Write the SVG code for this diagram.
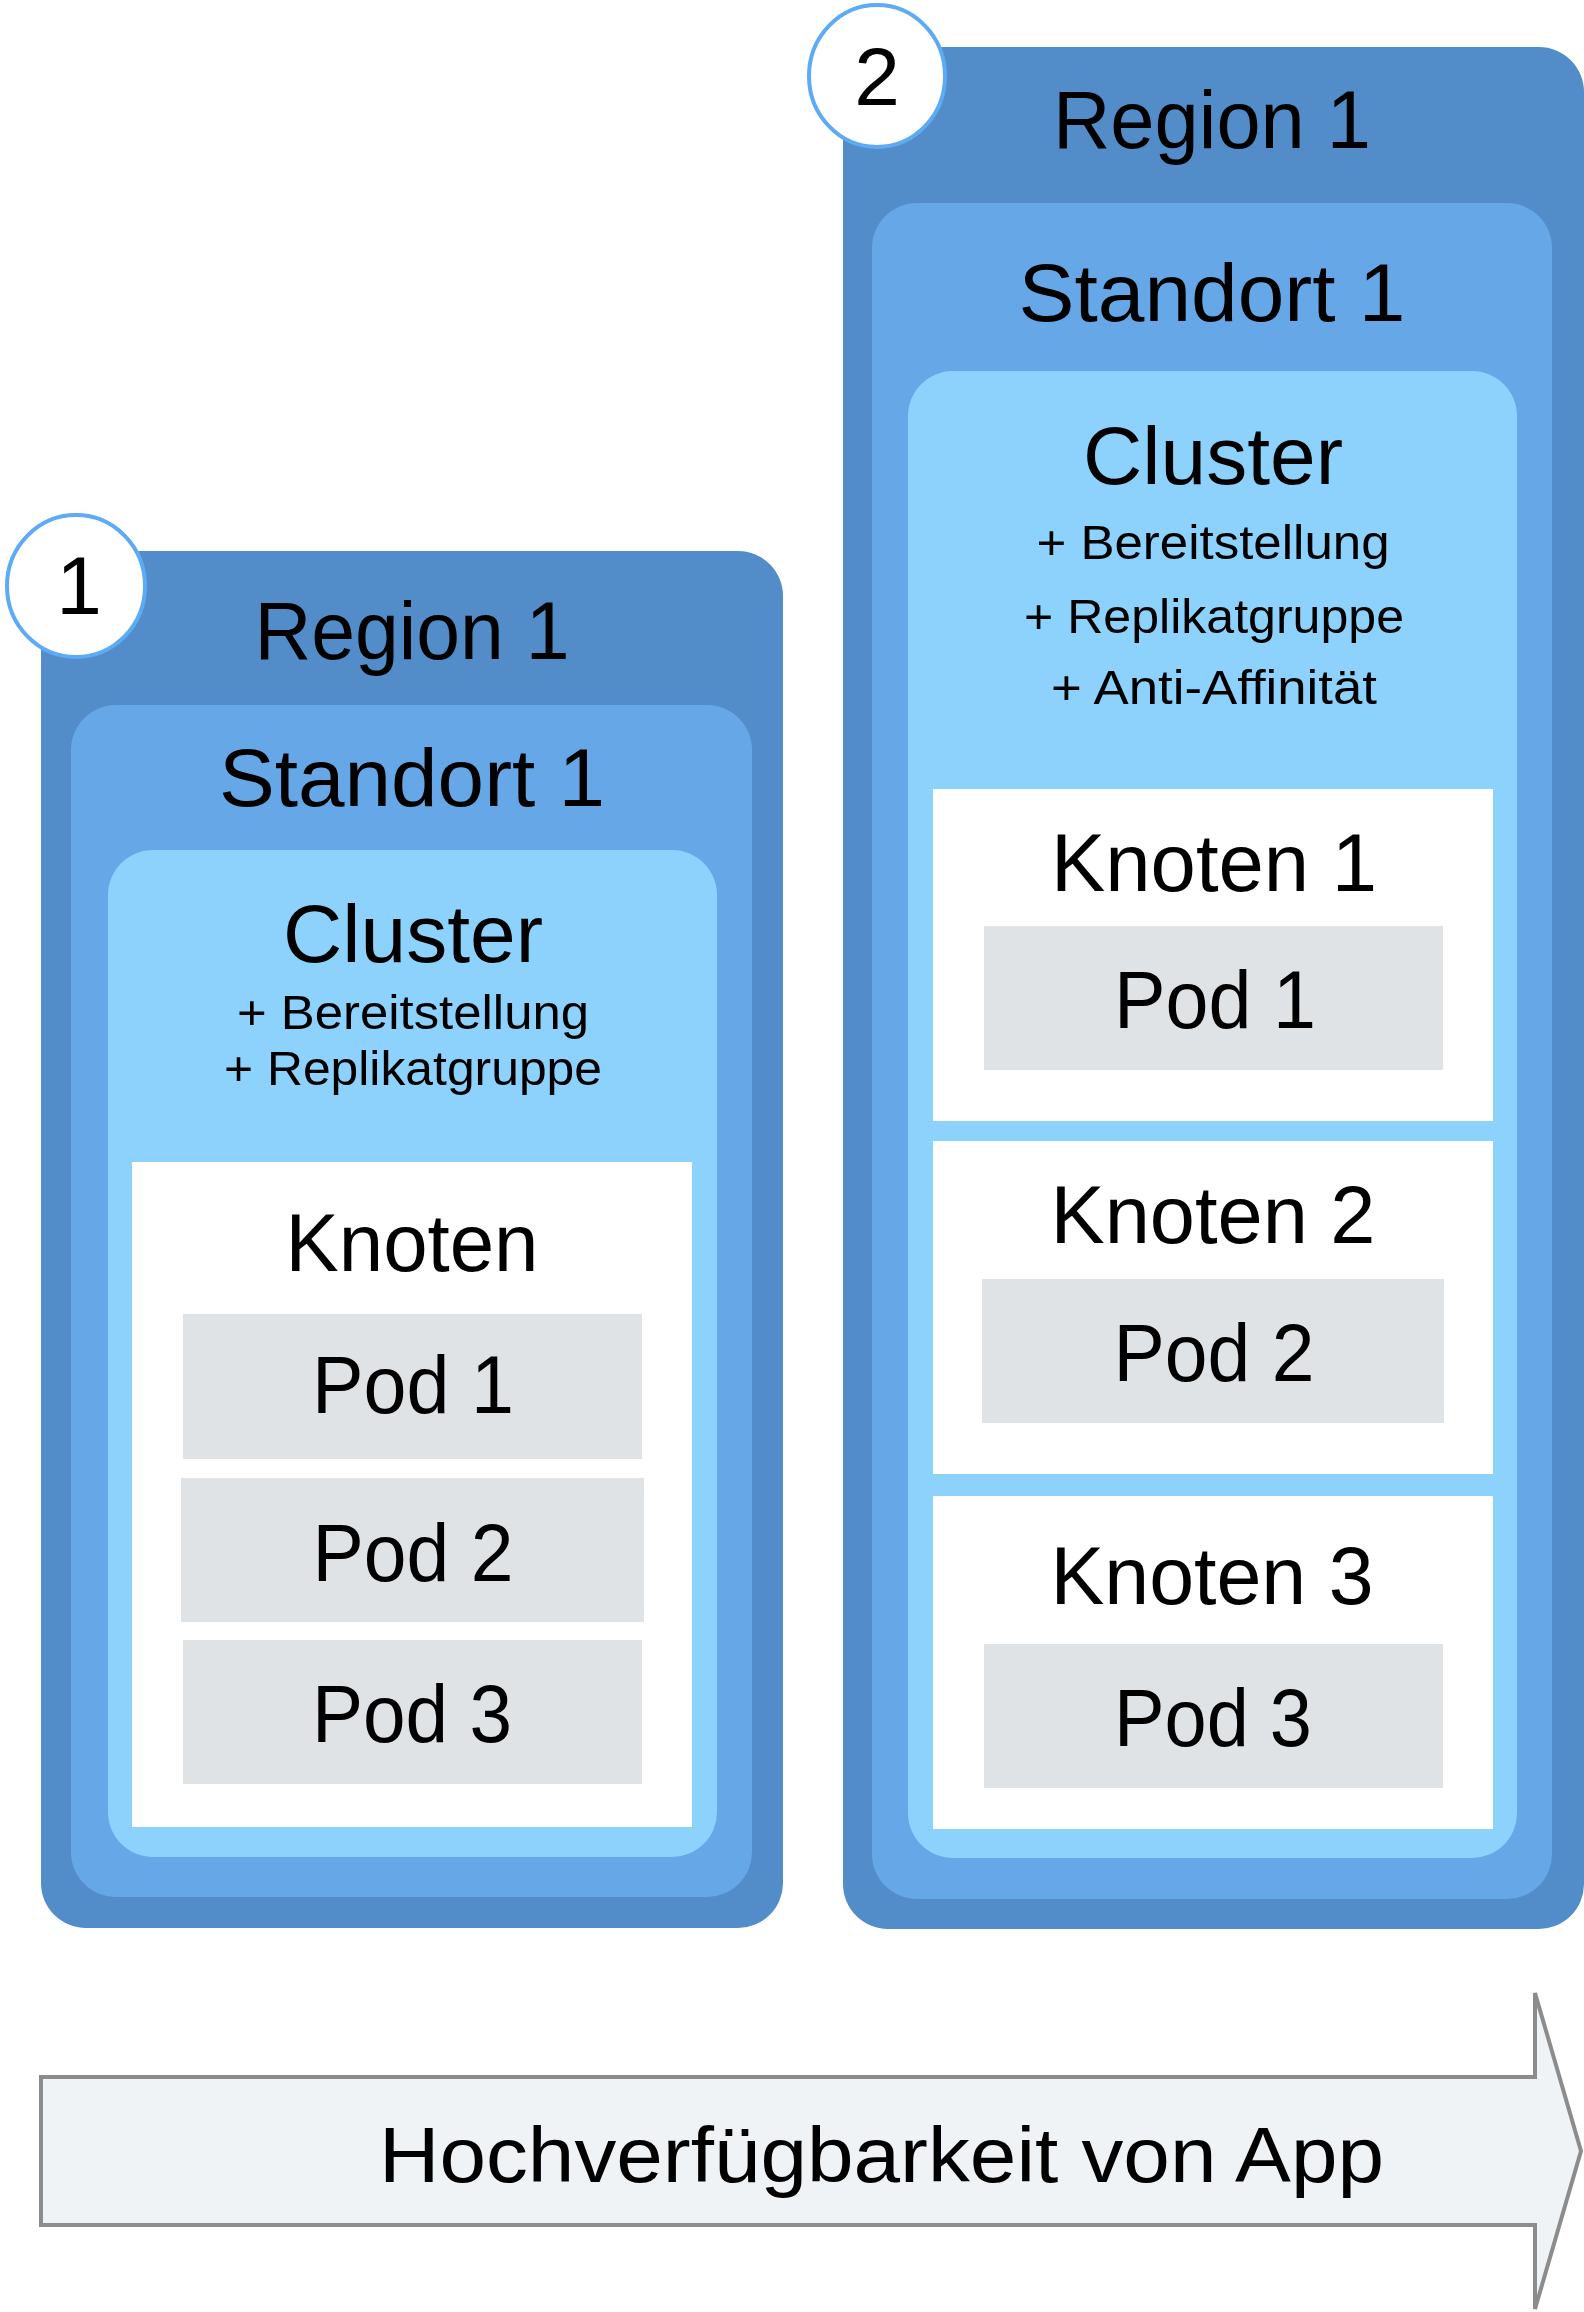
<svg xmlns="http://www.w3.org/2000/svg" width="1584" height="2312" viewBox="0 0 1584 2312">
<style>
.region{fill:#528dc9}
.standort{fill:#66a8e7}
.cluster{fill:#8dd2fc}
.knoten{fill:#ffffff}
.pod{fill:#dfe3e6}
.badge{fill:#ffffff;stroke:#5eabf5;stroke-width:4}
text{font-family:"Liberation Sans","Noto Sans",Arial,sans-serif;fill:#000000;text-anchor:middle}
.t1{font-size:82px}
.t2{font-size:49px}
.arrowtxt{font-size:78px;text-anchor:start}
.arrow{fill:#eff3f6;stroke:#8c8c8c;stroke-width:4}
</style>
<rect width="1584" height="2312" fill="#ffffff"/>

<g id="scenario1">
  <g id="region1-left">
    <rect class="region" x="41" y="551" width="742" height="1377" rx="45"/>
    <text class="t1" x="412" y="659" textLength="315" lengthAdjust="spacingAndGlyphs">Region 1</text>
  </g>
  <g id="standort1-left">
    <rect class="standort" x="71" y="705" width="681" height="1192" rx="45"/>
    <text class="t1" x="412" y="806" textLength="386" lengthAdjust="spacingAndGlyphs">Standort 1</text>
  </g>
  <g id="cluster-left">
    <rect class="cluster" x="108" y="850" width="609" height="1007" rx="45"/>
    <text class="t1" x="413" y="962" textLength="260" lengthAdjust="spacingAndGlyphs">Cluster</text>
    <text class="t2" x="413" y="1029" textLength="352" lengthAdjust="spacingAndGlyphs">+ Bereitstellung</text>
    <text class="t2" x="413" y="1085" textLength="378" lengthAdjust="spacingAndGlyphs">+ Replikatgruppe</text>
  </g>
  <g id="knoten-left">
    <rect class="knoten" x="132" y="1162" width="560" height="665"/>
    <text class="t1" x="412" y="1271" textLength="253" lengthAdjust="spacingAndGlyphs">Knoten</text>
  </g>
  <g id="pod1-left">
    <rect class="pod" x="183" y="1314" width="459" height="145"/>
    <text class="t1" x="413" y="1413" textLength="202" lengthAdjust="spacingAndGlyphs">Pod 1</text>
  </g>
  <g id="pod2-left">
    <rect class="pod" x="181" y="1478" width="463" height="144"/>
    <text class="t1" x="413" y="1581" textLength="201" lengthAdjust="spacingAndGlyphs">Pod 2</text>
  </g>
  <g id="pod3-left">
    <rect class="pod" x="183" y="1640" width="459" height="144"/>
    <text class="t1" x="412" y="1742" textLength="200" lengthAdjust="spacingAndGlyphs">Pod 3</text>
  </g>
  <g id="badge1">
    <ellipse class="badge" cx="76" cy="586" rx="69" ry="71"/>
    <text class="t1" x="79" y="614">1</text>
  </g>
</g>

<g id="scenario2">
  <g id="region1-right">
    <rect class="region" x="843" y="47" width="741" height="1882" rx="45"/>
    <text class="t1" x="1212" y="148" textLength="318" lengthAdjust="spacingAndGlyphs">Region 1</text>
  </g>
  <g id="standort1-right">
    <rect class="standort" x="872" y="203" width="680" height="1696" rx="45"/>
    <text class="t1" x="1212" y="321" textLength="387" lengthAdjust="spacingAndGlyphs">Standort 1</text>
  </g>
  <g id="cluster-right">
    <rect class="cluster" x="908" y="371" width="609" height="1487" rx="45"/>
    <text class="t1" x="1213" y="484" textLength="260" lengthAdjust="spacingAndGlyphs">Cluster</text>
    <text class="t2" x="1213" y="559" textLength="353" lengthAdjust="spacingAndGlyphs">+ Bereitstellung</text>
    <text class="t2" x="1214" y="633" textLength="380" lengthAdjust="spacingAndGlyphs">+ Replikatgruppe</text>
    <text class="t2" x="1214" y="704" textLength="326" lengthAdjust="spacingAndGlyphs">+ Anti-Affinität</text>
  </g>
  <g id="knoten1-right">
    <rect class="knoten" x="933" y="789" width="560" height="332"/>
    <text class="t1" x="1214" y="891" textLength="326" lengthAdjust="spacingAndGlyphs">Knoten 1</text>
  </g>
  <g id="pod1-right">
    <rect class="pod" x="984" y="926" width="459" height="144"/>
    <text class="t1" x="1215" y="1028" textLength="202" lengthAdjust="spacingAndGlyphs">Pod 1</text>
  </g>
  <g id="knoten2-right">
    <rect class="knoten" x="933" y="1141" width="560" height="333"/>
    <text class="t1" x="1213" y="1243" textLength="325" lengthAdjust="spacingAndGlyphs">Knoten 2</text>
  </g>
  <g id="pod2-right">
    <rect class="pod" x="982" y="1279" width="462" height="144"/>
    <text class="t1" x="1214" y="1381" textLength="201" lengthAdjust="spacingAndGlyphs">Pod 2</text>
  </g>
  <g id="knoten3-right">
    <rect class="knoten" x="933" y="1496" width="560" height="333"/>
    <text class="t1" x="1212" y="1604" textLength="323" lengthAdjust="spacingAndGlyphs">Knoten 3</text>
  </g>
  <g id="pod3-right">
    <rect class="pod" x="984" y="1644" width="459" height="144"/>
    <text class="t1" x="1213" y="1746" textLength="198" lengthAdjust="spacingAndGlyphs">Pod 3</text>
  </g>
  <g id="badge2">
    <ellipse class="badge" cx="877" cy="76" rx="68" ry="71"/>
    <text class="t1" x="877" y="105">2</text>
  </g>
</g>

<g id="connectors">
  <g id="availability-arrow">
    <polygon class="arrow" points="41,2077 1535,2077 1535,1993 1581,2151 1535,2309 1535,2225 41,2225"/>
    <text class="arrowtxt" x="379" y="2182" textLength="1005" lengthAdjust="spacingAndGlyphs">Hochverfügbarkeit von App</text>
  </g>
</g>
</svg>
